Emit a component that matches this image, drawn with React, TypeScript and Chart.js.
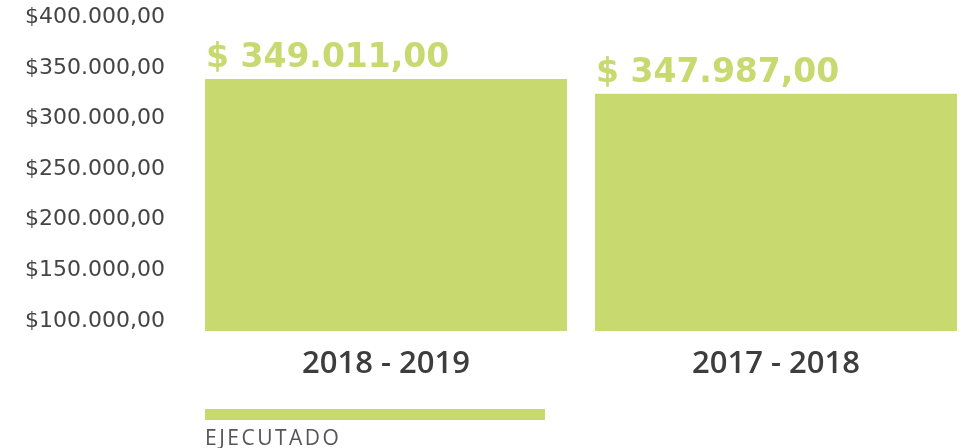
import React, { useEffect, useRef } from "react";
import { Chart, registerables } from "chart.js";

Chart.register(...registerables);

// Data
const categories = ["2018 - 2019", "2017 - 2018"];
const seriesName = "EJECUTADO";
// bar heights as drawn against the y axis
const ejecutado = [339200, 324700];
// amounts printed above the bars
const amountLabels = ["$ 349.011,00", "$ 347.987,00"];
const tickValues = [100000, 150000, 200000, 250000, 300000, 350000, 400000];
const axisMin = 90000;
const axisMax = 400000;

const GREEN = "#c8d96f";

function formatMoney(v: number): string {
  const s = Math.round(v).toString().replace(/\B(?=(\d{3})+(?!\d))/g, ".");
  return "$" + s + ",00";
}

const overlayPlugin = {
  id: "overlay",
  afterDatasetsDraw(chart: any) {
    const ctx = chart.ctx;
    const meta = chart.getDatasetMeta(0);
    ctx.save();
    ctx.fillStyle = GREEN;
    ctx.font = "bold 33px 'DejaVu Sans'";
    ctx.textAlign = "left";
    ctx.textBaseline = "alphabetic";
    meta.data.forEach((el: any, i: number) => {
      const left = el.x - el.width / 2;
      ctx.fillText(amountLabels[i], left + 1, el.y - 12);
    });
    ctx.restore();
  },
  afterDraw(chart: any) {
    const ctx = chart.ctx;
    const ds = chart.data.datasets[0];
    ctx.save();
    ctx.fillStyle = ds.backgroundColor;
    ctx.fillRect(205, 409, 340, 11);
    ctx.fillStyle = "#555555";
    ctx.font = "400 21px 'Open Sans'";
    try {
      (ctx as any).letterSpacing = "2.5px";
    } catch (e) {}
    ctx.textAlign = "left";
    ctx.textBaseline = "alphabetic";
    ctx.fillText(ds.label, 205, 445);
    ctx.restore();
  },
};

export default function App() {
  const ref = useRef<HTMLCanvasElement | null>(null);

  useEffect(() => {
    if (!ref.current) return;
    const chart = new Chart(ref.current, {
      type: "bar",
      data: {
        labels: categories,
        datasets: [
          {
            label: seriesName,
            data: ejecutado,
            backgroundColor: GREEN,
            borderWidth: 0,
            categoryPercentage: 1,
            barPercentage: 0.928,
          },
        ],
      },
      options: {
        responsive: false,
        animation: false,
        layout: { padding: { top: 17.5, right: 29, bottom: 0, left: 0 } },
        plugins: {
          legend: { display: false },
          tooltip: { enabled: false },
        },
        scales: {
          x: {
            grid: { display: false, drawTicks: false },
            border: { display: false },
            ticks: {
              color: "#3d3d3d",
              padding: 15,
              font: { family: "'Open Sans'", size: 31, weight: "600" },
            },
            afterFit: (scale: any) => {
              scale.height = 117;
              scale.paddingLeft = 0;
              scale.paddingRight = 0;
            },
          },
          y: {
            min: axisMin,
            max: axisMax,
            grid: { display: false, drawTicks: false },
            border: { display: false },
            afterBuildTicks: (scale: any) => {
              scale.ticks = tickValues.map((v) => ({ value: v }));
            },
            ticks: {
              color: "#444444",
              padding: 26,
              font: { family: "'DejaVu Sans'", size: 22 },
              callback: (v: any) => formatMoney(Number(v)),
            },
            afterFit: (scale: any) => {
              scale.width = 191;
              scale.paddingTop = 0;
              scale.paddingBottom = 0;
            },
          },
        },
      },
      plugins: [overlayPlugin],
    });
    return () => chart.destroy();
  }, []);

  return (
    <div
      style={{
        position: "absolute",
        left: 0,
        top: 0,
        width: 961,
        height: 448,
        overflow: "hidden",
        background: "#ffffff",
      }}
    >
      <canvas ref={ref} width={1000} height={448} style={{ display: "block" }} />
    </div>
  );
}
